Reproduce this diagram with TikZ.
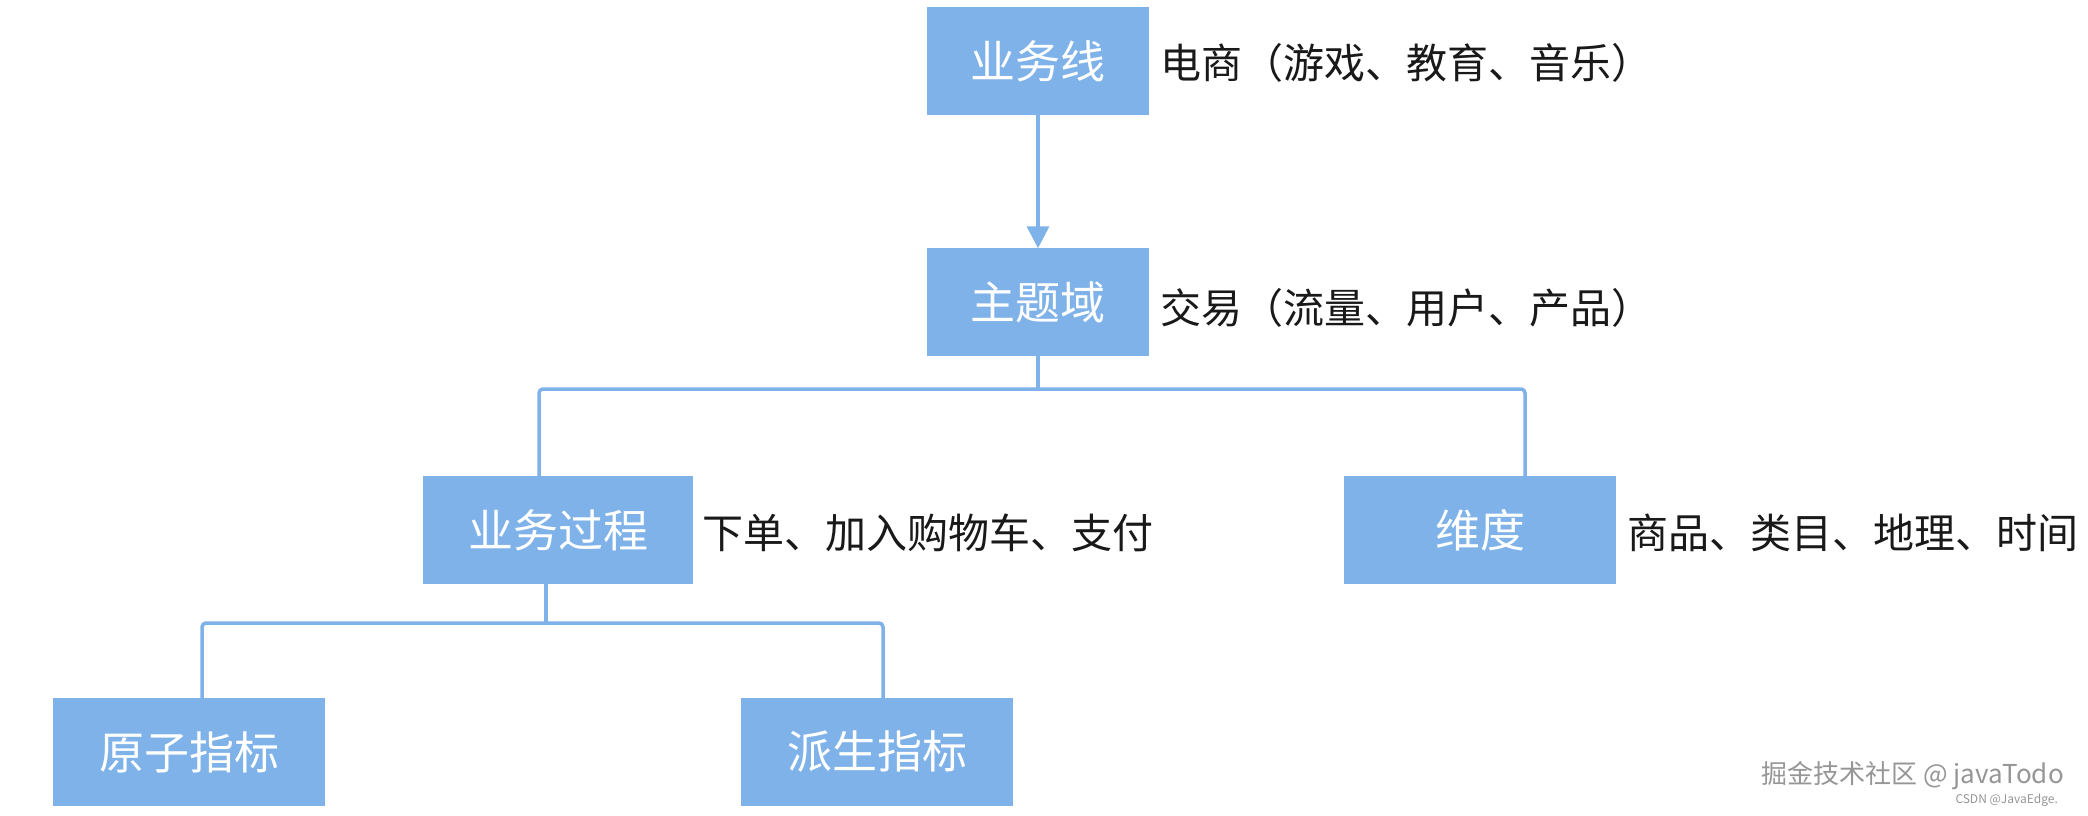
\documentclass[tikz,border=0pt]{standalone}
\usepackage{fontspec}
\setmainfont{Noto Sans CJK SC}
\newfontfamily\cjk{Noto Sans CJK SC}
\usetikzlibrary{arrows.meta}
\definecolor{boxblue}{RGB}{127,178,232}
\definecolor{wmgray}{RGB}{150,150,150}
\tikzset{
  blk/.style={draw=boxblue, fill=boxblue, line width=1.5pt, minimum width=#1, minimum height=106pt, inner sep=0pt, text=white, font=\cjk\fontsize{45}{50}\selectfont},
  blk/.default=220pt,
  lbl/.style={anchor=west, inner sep=0pt, text=black!90, font=\cjk\fontsize{41}{46}\selectfont},
  conn/.style={draw=boxblue, line width=3.5pt, rounded corners=4pt},
  wm/.style={anchor=east, inner sep=0pt, text=wmgray}
}
\begin{document}
\begin{tikzpicture}[x=1pt,y=-1pt]
\useasboundingbox[fill=white] (0,0) rectangle (2088,816);
% boxes
\node[blk=220pt] (line) at (1038,61) {业务线};
\node[blk=220pt] (domain) at (1038,302) {主题域};
\node[blk=269pt] (proc) at (558,530) {业务过程};
\node[blk=270pt] (dim) at (1480,530) {维度};
\node[blk=271pt] (atom) at (189,752) {原子指标};
\node[blk=270pt] (deriv) at (877,752) {派生指标};
% labels
\node[lbl] (lline) at (1160,63) {电商（游戏、教育、音乐）};
\node[lbl] (ldomain) at (1160,308) {交易（流量、用户、产品）};
\node[lbl] (lproc) at (702,533) {下单、加入购物车、支付};
\node[lbl] (ldim) at (1627,533) {商品、类目、地理、时间};
% connectors
\draw[conn, -{Triangle[length=22pt,width=22pt]}] (line.south) -- (domain.north);
\coordinate (j1) at (1038,389);
\coordinate (pa) at (539,389);
\coordinate (pb) at (1525,389);
\draw[conn] (domain.south) -- (j1);
\draw[conn] (pa |- proc.north) -- (pa) -- (pb) -- (pb |- dim.north);
\coordinate (j2) at (546,623);
\coordinate (qa) at (202,623);
\coordinate (qb) at (883,623);
\draw[conn] (j2 |- proc.south) -- (j2);
\draw[conn] (qa |- atom.north) -- (qa) -- (qb) -- (qb |- deriv.north);
% watermark
\node[wm, font=\cjk\fontsize{26}{30}\selectfont] (wm1) at (2064,776) {掘金技术社区 @ javaTodo};
\node[wm, font=\cjk\fontsize{12}{14}\selectfont] (wm2) at (2058,800) {CSDN @JavaEdge.};
\end{tikzpicture}
\end{document}
